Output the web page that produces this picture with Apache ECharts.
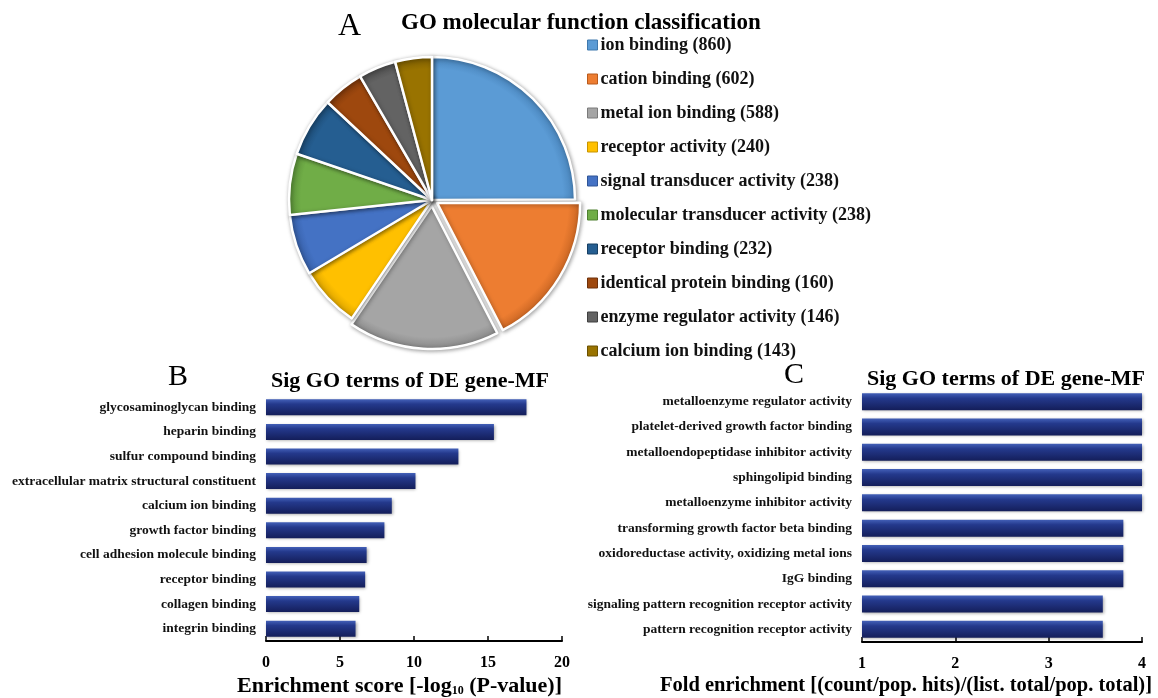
<!DOCTYPE html>
<html>
<head>
<meta charset="utf-8">
<script src="https://cdn.jsdelivr.net/npm/echarts@6/dist/echarts.min.js"></script>
<style>
html,body{margin:0;padding:0;background:#fff;}
#chart{width:1158px;height:698px;}
</style>
</head>
<body>
<div id="chart"></div>
<script>
// ---- data ----
const pieCategories = ['ion binding','cation binding','metal ion binding','receptor activity','signal transducer activity','molecular transducer activity','receptor binding','identical protein binding','enzyme regulator activity','calcium ion binding'];
const pieValues = [860,602,588,240,238,238,232,160,146,143];
const pieColors = ['#5b9bd5','#ed7d31','#a5a5a5','#ffc000','#4472c4','#70ad47','#255e91','#9e480e','#636363','#997300'];
const pieEdgeColors = ['#3f78ad','#b85a1c','#7a7a7a','#c79400','#2f5597','#4e8030','#173f63','#6e300a','#404040','#6b5000'];

const bCategories = ['glycosaminoglycan binding','heparin binding','sulfur compound binding','extracellular matrix structural constituent','calcium ion binding','growth factor binding','cell adhesion molecule binding','receptor binding','collagen binding','integrin binding'];
const bValues = [17.6,15.4,13.0,10.1,8.5,8.0,6.8,6.7,6.3,6.05];
const bTicks = [0,5,10,15,20];

const cCategories = ['metalloenzyme regulator activity','platelet-derived growth factor binding','metalloendopeptidase inhibitor activity','sphingolipid binding','metalloenzyme inhibitor activity','transforming growth factor beta binding','oxidoreductase activity, oxidizing metal ions','IgG binding','signaling pattern recognition receptor activity','pattern recognition receptor activity'];
const cValues = [4.0,4.0,4.0,4.0,4.0,3.8,3.8,3.8,3.58,3.58];
const cTicks = [1,2,3,4];

// ---- chart ----
const SERIF = '"Liberation Serif","Times New Roman",serif';
const PIE_CENTER = [432,200];
const PIE_R = 143;
const barGrad = new echarts.graphic.LinearGradient(0,0,0,1,[
  {offset:0,color:'#4360b8'},{offset:0.3,color:'#24398c'},{offset:1,color:'#141e5a'}]);

const chart = echarts.init(document.getElementById('chart'), null, {renderer:'canvas'});

function axisX(gridIndex, ticks){
  return {
    gridIndex, type:'value', min:ticks[0], max:ticks[ticks.length-1], interval:ticks[1]-ticks[0],
    axisLine:{show:true,lineStyle:{color:'#000',width:2}},
    axisTick:{show:true,inside:true,length:5,lineStyle:{color:'#000',width:1.5}},
    splitLine:{show:false},
    axisLabel:{color:'#000',fontFamily:SERIF,fontWeight:'bold',fontSize:16,margin:14}
  };
}
function axisY(gridIndex, cats){
  return {
    gridIndex, type:'category', data:cats, inverse:true,
    axisLine:{show:false}, axisTick:{show:false},
    axisLabel:{color:'#111',fontFamily:SERIF,fontWeight:'bold',fontSize:13.5,margin:10}
  };
}

function sliceColor(i){
  return new echarts.graphic.RadialGradient(PIE_CENTER[0], PIE_CENTER[1], PIE_R + 6, [
    {offset:0,color:pieColors[i]},{offset:0.88,color:pieColors[i]},{offset:1,color:pieEdgeColors[i]}], true);
}

const option = {
  backgroundColor:'#fff',
  animation:false,
  title:[
    {text:'A',left:333,top:6,textStyle:{fontFamily:SERIF,fontWeight:'normal',fontSize:32,color:'#000'}},
    {text:'GO molecular function classification',left:396,top:7,textStyle:{fontFamily:SERIF,fontWeight:'bold',fontSize:23,color:'#000'}},
    {text:'B',left:163,top:357,textStyle:{fontFamily:SERIF,fontWeight:'normal',fontSize:30,color:'#000'}},
    {text:'Sig GO terms of DE gene-MF',left:266,top:365,textStyle:{fontFamily:SERIF,fontWeight:'bold',fontSize:22,color:'#000'}},
    {text:'C',left:779,top:355,textStyle:{fontFamily:SERIF,fontWeight:'normal',fontSize:30,color:'#000'}},
    {text:'Sig GO terms of DE gene-MF',left:862,top:363,textStyle:{fontFamily:SERIF,fontWeight:'bold',fontSize:22,color:'#000'}},
    {text:'Enrichment score [-log{sub|10} (P-value)]',left:232,top:670,
      textStyle:{fontFamily:SERIF,fontWeight:'bold',fontSize:22,color:'#000',
        rich:{sub:{fontFamily:SERIF,fontWeight:'bold',fontSize:12,color:'#000',verticalAlign:'bottom',padding:[10,0,0,0]}}}},
    {text:'Fold enrichment [(count/pop. hits)/(list. total/pop. total)]',left:655,top:670,textStyle:{fontFamily:SERIF,fontWeight:'bold',fontSize:20.5,color:'#000'}}
  ],
  legend:{
    orient:'vertical', left:582, top:30, itemWidth:10, itemHeight:10, itemGap:14, icon:'rect',
    selectedMode:false,
    data:pieCategories.map((n,i)=>({name:n,itemStyle:{color:pieColors[i],borderColor:pieEdgeColors[i],borderWidth:1}})),
    formatter:function(name){ return name + ' (' + pieValues[pieCategories.indexOf(name)] + ')'; },
    textStyle:{fontFamily:SERIF,fontWeight:'bold',fontSize:18,lineHeight:20,color:'#111',padding:[0,0,0,-2]}
  },
  grid:[
    {left:266,top:395,width:296,height:246,containLabel:false},
    {left:862,top:389,width:280,height:253,containLabel:false}
  ],
  xAxis:[axisX(0,bTicks),axisX(1,cTicks)],
  yAxis:[axisY(0,bCategories),axisY(1,cCategories)],
  series:[
    {
      type:'pie', center:PIE_CENTER, radius:PIE_R, startAngle:90, clockwise:true,
      selectedMode:'multiple', selectedOffset:6,
      label:{show:false}, labelLine:{show:false},
      emphasis:{disabled:true},
      itemStyle:{borderColor:'#fff',borderWidth:2.5,shadowBlur:4,shadowColor:'rgba(0,0,0,0.35)',shadowOffsetX:1,shadowOffsetY:1},
      data:pieCategories.map((n,i)=>({name:n,value:pieValues[i],selected:(i===1||i===2),itemStyle:{color:sliceColor(i)}}))
    },
    {
      type:'bar', xAxisIndex:0, yAxisIndex:0, data:bValues, barWidth:16,
      itemStyle:{color:barGrad,shadowBlur:3,shadowColor:'rgba(0,0,0,0.35)',shadowOffsetX:1,shadowOffsetY:1}
    },
    {
      type:'bar', xAxisIndex:1, yAxisIndex:1, data:cValues, barWidth:17,
      itemStyle:{color:barGrad,shadowBlur:3,shadowColor:'rgba(0,0,0,0.35)',shadowOffsetX:1,shadowOffsetY:1}
    }
  ]
};
chart.setOption(option);
</script>
</body>
</html>
